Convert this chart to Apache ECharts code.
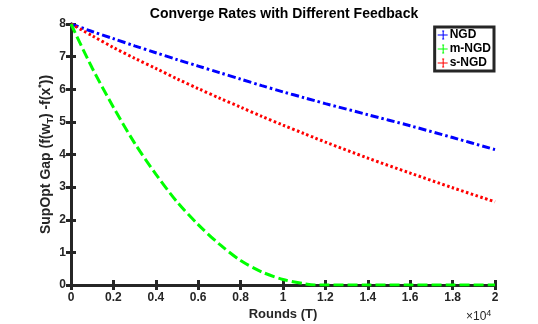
<!DOCTYPE html>
<html>
<head>
<meta charset="utf-8">
<script src="https://cdn.jsdelivr.net/npm/echarts@6/dist/echarts.min.js"></script>
<style>
  html, body { margin: 0; padding: 0; background: #fff; }
  #chart { width: 538px; height: 324px; }
</style>
</head>
<body>
<div id="chart"></div>
<script>
// rounds in units of 1e4
const rounds = [0, 0.1, 0.2, 0.3, 0.4, 0.5, 0.6, 0.7, 0.8, 0.9, 1.0, 1.1, 1.15, 1.2, 1.4, 1.6, 1.8, 2.0]
const ngd  = [8, 7.77, 7.55, 7.33, 7.12, 6.91, 6.71, 6.51, 6.31, 6.11, 5.92, 5.74, 5.65, 5.56, 5.22, 4.88, 4.52, 4.15]
const mNgd = [8, 6.65, 5.45, 4.35, 3.4, 2.55, 1.85, 1.25, 0.75, 0.4, 0.17, 0.04, 0, 0, 0, 0, 0, 0]
const sNgd = [8, 7.64, 7.28, 6.95, 6.64, 6.32, 6.02, 5.73, 5.45, 5.17, 4.9, 4.64, 4.51, 4.38, 3.89, 3.43, 2.98, 2.55]

const xTicks = [0, 0.2, 0.4, 0.6, 0.8, 1, 1.2, 1.4, 1.6, 1.8, 2]
const yTicks = [0, 1, 2, 3, 4, 5, 6, 7, 8]

const axisColor = '#262626'
const font = 'Liberation Sans, Arial, Helvetica, sans-serif'

const pairs = (ys) => rounds.map((x, i) => [x, ys[i]])

// small error-bar style legend icon
const barIcon = 'path://M0,5 L10,5 L10,6 L0,6 Z M4.5,1 L6.5,1 L6.5,2 L6,2 L6,9 L6.5,9 L6.5,10 L4.5,10 L4.5,9 L5,9 L5,2 L4.5,2 Z'

const legendItem = (name, color) => ({
  name,
  icon: barIcon,
  itemStyle: { color, borderColor: color, borderWidth: 0, opacity: 1 },
  lineStyle: { color, width: 0, opacity: 0 }
})

const chart = echarts.init(document.getElementById('chart'), null, { renderer: 'canvas' })

const tickAxis = {
  axisLine: { show: true, lineStyle: { color: axisColor, width: 3 } },
  axisTick: { show: true, inside: true, length: 5, lineStyle: { color: axisColor, width: 3 } },
  splitLine: { show: false }
}

chart.setOption({
  animation: false,
  backgroundColor: '#fff',
  title: {
    text: 'Converge Rates with Different Feedback',
    left: 279,
    textAlign: 'center',
    top: 2,
    textStyle: { fontFamily: font, fontSize: 14, fontWeight: 'bold', color: '#000' }
  },
  legend: {
    orient: 'vertical',
    right: 44,
    top: 27,
    itemWidth: 10,
    itemHeight: 10,
    itemGap: 2,
    padding: [2, 3, 2, 3],
    borderColor: axisColor,
    borderWidth: 3,
    backgroundColor: '#fff',
    textStyle: { fontFamily: font, fontSize: 12, fontWeight: 'bold', color: '#000', padding: [0, 0, 0, -3] },
    data: [
      legendItem('NGD', '#0000ff'),
      legendItem('m-NGD', '#00ff00'),
      legendItem('s-NGD', '#ff0000')
    ]
  },
  grid: { left: 71, right: 43, top: 24, bottom: 39, outerBoundsMode: 'none', containLabel: false },
  graphic: [{
    type: 'text',
    left: 466,
    top: 309,
    style: {
      text: '×10{s|4}',
      fontFamily: font,
      fontSize: 12,
      fill: '#262626',
      rich: { s: { fontSize: 9, fontFamily: font, fill: '#262626', padding: [0, 0, 7, 0] } }
    }
  }],
  xAxis: [
    Object.assign({
      type: 'value',
      min: 0,
      max: 2,
      interval: 0.2,
      name: 'Rounds (T)',
      nameLocation: 'middle',
      nameGap: 23,
      nameMoveOverlap: false,
      nameTextStyle: { fontFamily: font, fontSize: 13, fontWeight: 'bold', color: '#262626' },
      axisLabel: {
        fontFamily: font, fontSize: 12, fontWeight: 'bold', color: '#262626', margin: 7,
        formatter: (v) => xTicks.find(t => Math.abs(t - v) < 1e-6) !== undefined ? String(+v.toFixed(1)) : ''
      }
    }, tickAxis),
    Object.assign({
      type: 'value', position: 'top', min: 0, max: 2, interval: 0.2,
      axisLabel: { show: false }
    }, tickAxis)
  ],
  yAxis: [
    Object.assign({
      type: 'value',
      min: 0,
      max: 8,
      interval: 1,
      name: 'SupOpt Gap (f(w{sub|T}) -f(x{sup|*}))',
      nameLocation: 'middle',
      nameGap: 15,
      nameMoveOverlap: false,
      nameTextStyle: {
        fontFamily: font, fontSize: 14, fontWeight: 'bold', color: '#262626',
        rich: {
          sub: { fontFamily: font, fontSize: 9, fontWeight: 'bold', color: '#262626', padding: [9, 0, 0, 0] },
          sup: { fontFamily: font, fontSize: 9, fontWeight: 'bold', color: '#262626', padding: [0, 0, 10, 0] }
        }
      },
      axisLabel: {
        fontFamily: font, fontSize: 12, fontWeight: 'bold', color: '#262626', margin: 5,
        formatter: (v) => yTicks.includes(v) ? String(v) : ''
      }
    }, tickAxis),
    Object.assign({
      type: 'value', position: 'right', min: 0, max: 8, interval: 1,
      axisLabel: { show: false }
    }, tickAxis)
  ],
  series: [
    {
      name: 'NGD', type: 'line', data: pairs(ngd), showSymbol: false, smooth: 0.3, z: 3,
      lineStyle: { color: '#0000ff', width: 3, type: [8, 3, 2.5, 3] },
      itemStyle: { color: '#0000ff' }
    },
    {
      name: 'm-NGD', type: 'line', data: pairs(mNgd), showSymbol: false, smooth: 0.3, z: 4,
      lineStyle: { color: '#00ff00', width: 3, type: [10, 4] },
      itemStyle: { color: '#00ff00' }
    },
    {
      name: 's-NGD', type: 'line', data: pairs(sNgd), showSymbol: false, smooth: 0.3, z: 3,
      lineStyle: { color: '#ff0000', width: 3, type: [2.5, 2.5] },
      itemStyle: { color: '#ff0000' }
    }
  ]
})
</script>
</body>
</html>
